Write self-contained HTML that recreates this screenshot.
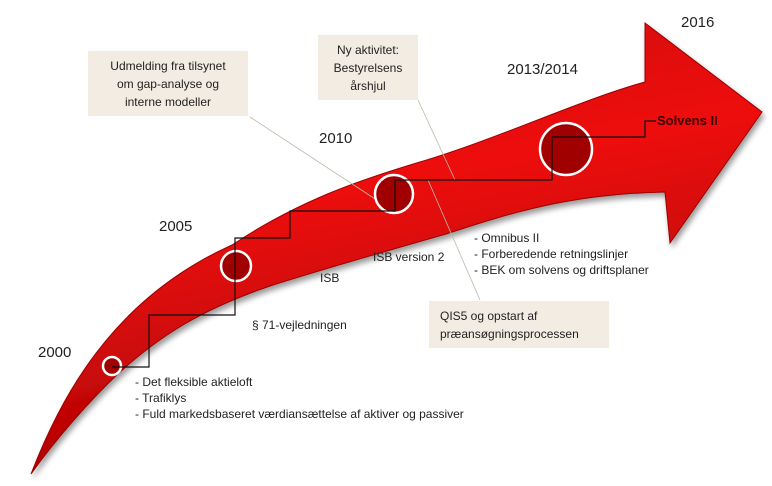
<!DOCTYPE html>
<html><head><meta charset="utf-8"><style>
html,body{margin:0;padding:0;background:#fff;}
svg{display:block;}
text{font-family:"Liberation Sans",sans-serif;fill:#222;font-size:12px;}
</style></head><body>
<svg width="772" height="486" viewBox="0 0 772 486" xmlns="http://www.w3.org/2000/svg">
<defs>
<linearGradient id="g" x1="0" y1="0" x2="0.3" y2="1">
<stop offset="0" stop-color="#c80000"/>
<stop offset="0.45" stop-color="#ee1010"/>
<stop offset="1" stop-color="#a80000"/>
</linearGradient>
<filter id="sh" x="-10%" y="-10%" width="120%" height="130%">
<feGaussianBlur in="SourceAlpha" stdDeviation="3"/>
<feOffset dx="2" dy="4"/>
<feComponentTransfer><feFuncA type="linear" slope="0.4"/></feComponentTransfer>
<feMerge><feMergeNode/><feMergeNode in="SourceGraphic"/></feMerge>
</filter>
</defs>
<path filter="url(#sh)" fill="url(#g)" stroke="#9a0000" stroke-width="1"
d="M31,474 C60,400 110,300 232,245 C300,200 360,180 420,162 C500,138 580,100 645,82 L645,23 L762,112 L670,243 L665,192 C570,194 510,213 446,234 C390,250 320,270 270,286 C200,310 160,336 120,372 C90,400 55,440 31,474 Z"/>
<g fill="none" stroke="#bba" stroke-width="0.8">
<line x1="250" y1="117" x2="395" y2="212"/>
<line x1="418" y1="100" x2="455" y2="180"/>
<line x1="480" y1="300" x2="428" y2="180"/>
</g>
<g fill="#a00000" stroke="#fff" stroke-width="2.5">
<circle cx="112" cy="366" r="9"/>
<circle cx="236" cy="266" r="15"/>
<circle cx="394" cy="194" r="19"/>
<circle cx="566" cy="149" r="26"/>
</g>
<polyline fill="none" stroke="#111" stroke-width="1.2" points="112,367 149,367 149,315 235,315 235,238 290,238 290,211 395,211 395,180 552,180 552,137 645,137 645,121 656,121"/>
<rect x="88" y="51" width="160" height="65" fill="#f3ece2"/>
<rect x="318" y="35" width="100" height="65" fill="#f3ece2"/>
<rect x="429" y="301" width="180" height="47" fill="#f3ece2"/>
<g text-anchor="middle">
<text x="168" y="70">Udmelding fra tilsynet</text>
<text x="168" y="88">om gap-analyse og</text>
<text x="168" y="106">interne modeller</text>
<text x="368" y="54">Ny aktivitet:</text>
<text x="368" y="72">Bestyrelsens</text>
<text x="368" y="90">årshjul</text>
</g>
<text x="440" y="320">QIS5 og opstart af</text>
<text x="440" y="338">præansøgningsprocessen</text>
<text x="38" y="357" style="font-size:15px">2000</text>
<text x="159" y="231" style="font-size:15px">2005</text>
<text x="319" y="143" style="font-size:15px">2010</text>
<text x="507" y="74" style="font-size:15px">2013/2014</text>
<text x="681" y="27" style="font-size:15px">2016</text>
<text x="657" y="125" style="font-weight:bold;font-size:13px;fill:#3a0000">Solvens II</text>
<text x="252" y="329">§ 71-vejledningen</text>
<text x="320" y="282">ISB</text>
<text x="373" y="261">ISB version 2</text>
<text x="474" y="242">- Omnibus II</text>
<text x="474" y="258">- Forberedende  retningslinjer</text>
<text x="474" y="274">- BEK om solvens og driftsplaner</text>
<text x="135" y="386">- Det fleksible aktieloft</text>
<text x="135" y="402">- Trafiklys</text>
<text x="135" y="418">- Fuld markedsbaseret værdiansættelse af aktiver og passiver</text>
</svg>
</body></html>
